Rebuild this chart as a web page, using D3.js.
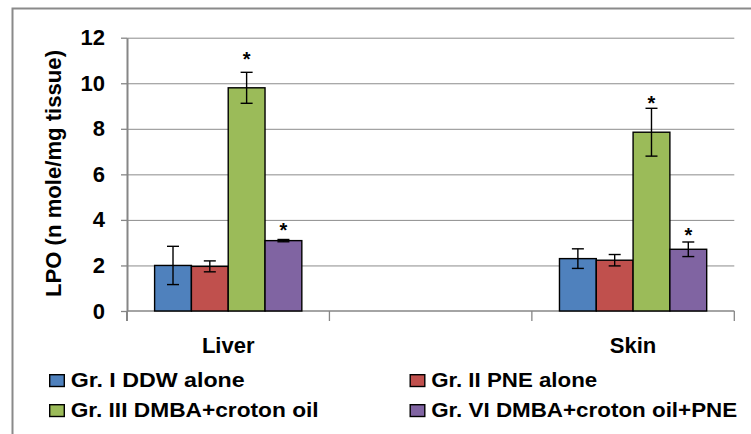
<!DOCTYPE html>
<html>
<head>
<meta charset="utf-8">
<script src="https://cdn.jsdelivr.net/npm/d3@7"></script>
<style>
  body { margin: 0; background: #fff; }
  svg { display: block; font-family: "Liberation Sans", Arial, sans-serif; }
  .grid line { stroke: #8c8c8c; stroke-width: 1; }
  .grid path { display: none; }
  .axis text { font-size: 22px; font-weight: bold; fill: #000; }
</style>
</head>
<body>
<svg id="chart" width="751" height="434"></svg>
<script>
// data
var categories = ["Liver", "", "Skin"];
var groups = ["Gr. I DDW alone", "Gr. II PNE alone", "Gr. III DMBA+croton oil", "Gr. VI DMBA+croton oil+PNE"];
var colors = ["#4F81BD", "#C0504D", "#9BBB59", "#8064A2"];
var liverMeans = [2.0, 1.96, 9.8, 3.09];
var liverErr = [0.84, 0.24, 0.68, 0.05];
var skinMeans = [2.3, 2.23, 7.85, 2.71];
var skinErr = [0.43, 0.25, 1.05, 0.32];
// asterisks (significance), height in data units
var liverStars = [null, null, 11.26, 3.75];
var skinStars = [null, null, 9.29, 3.52];
var yTicks = [0, 2, 4, 6, 8, 10, 12];

var svg = d3.select("#chart");
var W = 751, H = 434;
var margin = {top: 37.7, right: 16.7, bottom: 123, left: 127};
var width = W - margin.left - margin.right;
var height = H - margin.top - margin.bottom;

// outer chart border
svg.append("rect")
    .attr("x", 12.5).attr("y", 8.5)
    .attr("width", W + 20).attr("height", H + 20)
    .attr("fill", "none")
    .attr("stroke", "#8a8a8a")
    .attr("stroke-width", 2);

var g = svg.append("g")
    .attr("transform", "translate(" + margin.left + "," + margin.top + ")");

// SET SCALES
var xScale = d3.scaleBand().domain(categories).range([0, width]).padding(0);
var xSub = d3.scaleBand().domain(groups).range([0, xScale.bandwidth()])
    .paddingInner(0).paddingOuter(0.75);
var yScale = d3.scaleLinear().domain([0, 12]).range([height, 0]);

// gridlines
g.append("g")
    .attr("class", "grid")
    .call(d3.axisLeft(yScale).tickValues(yTicks).tickSize(-width).tickFormat(""))
    .selectAll("line").filter(function(d) { return d === 0; }).remove();

// y axis
var yAxis = g.append("g")
    .attr("class", "axis")
    .call(d3.axisLeft(yScale).tickValues(yTicks).tickSize(6).tickPadding(16).tickSizeOuter(0));
yAxis.select(".domain").attr("stroke", "#868686").attr("stroke-width", 2);
yAxis.selectAll(".tick line").attr("stroke", "#868686").attr("stroke-width", 1.3);

// x axis: baseline + boundary ticks
g.append("line")
    .attr("x1", 0).attr("x2", width)
    .attr("y1", yScale(0)).attr("y2", yScale(0))
    .attr("stroke", "#868686").attr("stroke-width", 1.5);
var bounds = categories.map(function(c) { return xScale(c); }).concat([width]);
g.selectAll(".xtick")
    .data(bounds)
    .enter().append("line")
    .attr("x1", function(d) { return d; }).attr("x2", function(d) { return d; })
    .attr("y1", yScale(0)).attr("y2", yScale(0) + 10)
    .attr("stroke", "#868686").attr("stroke-width", function(d, i) { return i === 0 ? 2 : 1.3; });

// category labels
g.selectAll(".catlabel")
    .data(categories.filter(function(c) { return c !== ""; }))
    .enter().append("text")
    .attr("x", function(c) { return xScale(c) + xScale.bandwidth() / 2; })
    .attr("y", yScale(0) + 41.7)
    .attr("text-anchor", "middle")
    .style("font-size", "22px").style("font-weight", "bold")
    .text(function(c) { return c; });

// y title
svg.append("text")
    .attr("transform", "translate(60.5," + 173.5 + ") rotate(-90)")
    .attr("text-anchor", "middle")
    .attr("textLength", 247).attr("lengthAdjust", "spacingAndGlyphs")
    .style("font-size", "22px").style("font-weight", "bold")
    .text("LPO (n mole/mg tissue)");

// bars
var rows = [];
groups.forEach(function(grp, i) {
    rows.push({cat: "Liver", grp: grp, i: i, v: liverMeans[i], e: liverErr[i], star: liverStars[i]});
    rows.push({cat: "Skin", grp: grp, i: i, v: skinMeans[i], e: skinErr[i], star: skinStars[i]});
});

g.selectAll("rect.bar")
    .data(rows)
    .enter().append("rect")
    .attr("class", "bar")
    .attr("x", function(d) { return xScale(d.cat) + xSub(d.grp); })
    .attr("width", xSub.bandwidth())
    .attr("y", function(d) { return yScale(d.v); })
    .attr("height", function(d) { return yScale(0) - yScale(d.v); })
    .style("fill", function(d) { return colors[d.i]; })
    .attr("stroke", "#000").attr("stroke-width", 1.4);

// error bars
var cx = function(d) { return xScale(d.cat) + xSub(d.grp) + xSub.bandwidth() / 2; };
var eb = g.selectAll(".err").data(rows).enter().append("g").attr("class", "err")
    .attr("stroke", "#000").attr("stroke-width", 1.4);
eb.append("line")
    .attr("x1", cx).attr("x2", cx)
    .attr("y1", function(d) { return yScale(d.v + d.e); })
    .attr("y2", function(d) { return yScale(d.v - d.e); });
eb.append("line")
    .attr("x1", function(d) { return cx(d) - 6; }).attr("x2", function(d) { return cx(d) + 6; })
    .attr("y1", function(d) { return yScale(d.v + d.e); })
    .attr("y2", function(d) { return yScale(d.v + d.e); });
eb.append("line")
    .attr("x1", function(d) { return cx(d) - 6; }).attr("x2", function(d) { return cx(d) + 6; })
    .attr("y1", function(d) { return yScale(d.v - d.e); })
    .attr("y2", function(d) { return yScale(d.v - d.e); });

// asterisks
g.selectAll(".star")
    .data(rows.filter(function(d) { return d.star !== null; }))
    .enter().append("text")
    .attr("x", cx)
    .attr("y", function(d) { return yScale(d.star) + 11; })
    .attr("text-anchor", "middle")
    .style("font-size", "20px").style("font-weight", "bold")
    .text("*");

// legend
var legendX = [49, 409.5];
var legendY = [374, 404];
var legendW = [174, 166, 248, 306];
var leg = svg.selectAll(".legend")
    .data(groups)
    .enter().append("g")
    .attr("class", "legend")
    .attr("transform", function(d, i) { return "translate(" + legendX[i % 2] + "," + legendY[Math.floor(i / 2)] + ")"; });
leg.append("rect")
    .attr("x", 0.7).attr("y", 0.7)
    .attr("width", 14.6).attr("height", 11.8)
    .style("fill", function(d, i) { return colors[i]; })
    .attr("stroke", "#000").attr("stroke-width", 1.4);
leg.append("text")
    .attr("x", 21.7)
    .attr("y", 13)
    .attr("textLength", function(d, i) { return legendW[i]; })
    .attr("lengthAdjust", "spacingAndGlyphs")
    .style("font-size", "20px").style("font-weight", "bold")
    .text(function(d) { return d; });
</script>
</body>
</html>
